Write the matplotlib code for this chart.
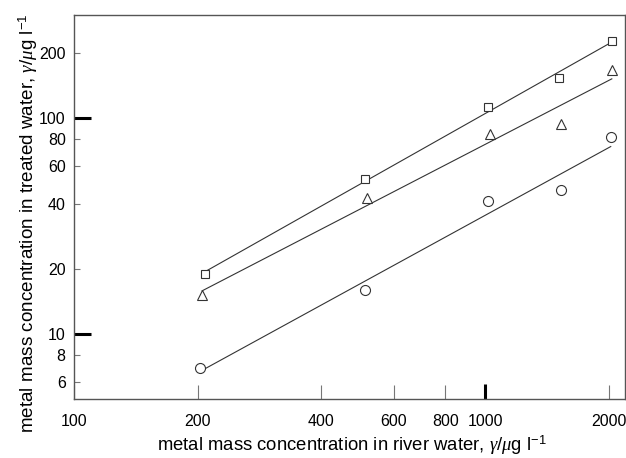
import matplotlib
matplotlib.use("Agg")
import matplotlib.pyplot as plt
import numpy as np

plt.rcParams["font.family"] = ["Liberation Sans", "DejaVu Sans"]
plt.rcParams["mathtext.fontset"] = "custom"
plt.rcParams["mathtext.rm"] = "Liberation Sans"
plt.rcParams["mathtext.it"] = "Liberation Serif:italic"

# river water concentration (x) vs treated water concentration (y), µg/l
sq_x = [208, 511, 1017, 1511, 2034]
sq_y = [19.0, 52.1, 112.4, 152.4, 225.3]

tri_x = [205, 517, 1028, 1528, 2034]
tri_y = [15.2, 42.5, 83.8, 93.2, 165.5]

circ_x = [202, 511, 1019, 1528, 2022]
circ_y = [7.0, 16.0, 41.1, 46.2, 81.5]

x_ticks = [100, 200, 400, 600, 800, 1000, 2000]
y_ticks = [6, 8, 10, 20, 40, 60, 80, 100, 200]

fig = plt.figure(figsize=(6.26, 4.58), dpi=100)
ax = fig.add_axes([74 / 626, 59 / 458, 551 / 626, 384 / 458])

line_col = "#333333"
series = [(sq_x, sq_y, "s", 6.3), (tri_x, tri_y, "^", 7.0), (circ_x, circ_y, "o", 7.2)]
for xs, ys, mk, ms in series:
    lx, ly = np.log10(xs), np.log10(ys)
    k, b = np.polyfit(lx, ly, 1)
    xe = np.array([min(xs), max(xs)])
    ax.plot(xe, 10 ** (k * np.log10(xe) + b), color=line_col, lw=0.8, zorder=2)
    ax.plot(xs, ys, linestyle="none", marker=mk, ms=ms, mfc="white",
            mec=line_col, mew=0.8, zorder=3)

ax.set_xscale("log")
ax.set_yscale("log")
ax.set_xlim(100, 2190)
ax.set_ylim(5.03, 298)

ax.xaxis.set_minor_locator(matplotlib.ticker.NullLocator())
ax.yaxis.set_minor_locator(matplotlib.ticker.NullLocator())
ax.set_xticks(x_ticks)
ax.set_xticklabels([str(v) for v in x_ticks])
ax.set_yticks(y_ticks)
ax.set_yticklabels([str(v) for v in y_ticks])

ax.tick_params(axis="x", direction="in", length=10, width=0.8, color="#777777",
               labelsize=11.5, pad=11)
ax.tick_params(axis="y", direction="in", length=4, width=0.8, color="#777777",
               labelsize=11.5, pad=6)

for t, v in zip(ax.xaxis.get_major_ticks(), x_ticks):
    if v == 1000:
        t.tick1line.set_markersize(11)
        t.tick1line.set_markeredgewidth(2.2)
        t.tick1line.set_markeredgecolor("black")
for t, v in zip(ax.yaxis.get_major_ticks(), y_ticks):
    if v in (10, 100):
        t.tick1line.set_markersize(12)
        t.tick1line.set_markeredgewidth(2.2)
        t.tick1line.set_markeredgecolor("black")

for sp in ax.spines.values():
    sp.set_color("#555555")
    sp.set_linewidth(1.0)

ax.set_xlabel(r"metal mass concentration in river water, $\it{\gamma}/\mu$g l$^{-1}$",
              fontsize=13.3, labelpad=3)
ax.set_ylabel(r"metal mass concentration in treated water, $\it{\gamma}/\mu$g l$^{-1}$",
              fontsize=13.6, labelpad=-1)
ax.xaxis.label.set_x(0.505)
ax.yaxis.label.set_y(0.458)

fig.savefig("out.png", dpi=100)
